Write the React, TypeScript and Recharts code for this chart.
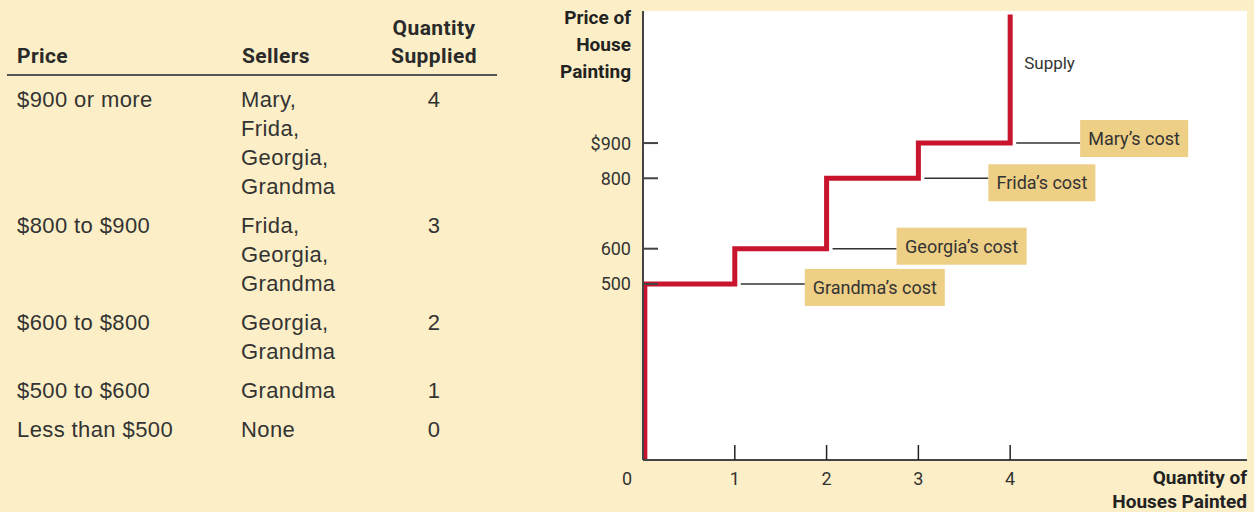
import React from "react";
import {
  CartesianGrid,
  ComposedChart,
  Line,
  Scatter,
  XAxis,
  YAxis,
} from "recharts";

// Table values
const PRICE_RANGES = ["$900 or more", "$800 to $900", "$600 to $800", "$500 to $600", "Less than $500"];
const ROW_SELLERS = [
  ["Mary,", "Frida,", "Georgia,", "Grandma"],
  ["Frida,", "Georgia,", "Grandma"],
  ["Georgia,", "Grandma"],
  ["Grandma"],
  ["None"],
];
const QTY_SUPPLIED = [4, 3, 2, 1, 0];

// Supply curve: each seller's cost, in order of who enters first
const SELLERS = ["Grandma", "Georgia", "Frida", "Mary"];
const COSTS = [500, 600, 800, 900];
const FIRST_Q = 0.02; // the first riser sits just right of the axis
const SUPPLY_TOP = 1265;

const PRICE_TICKS = [500, 600, 800, 900];
const QTY_TICKS = [0, 1, 2, 3, 4];

const CREAM = "#fcefc7";
const RED = "#c8142c";
const TAN = "#edcf85";
const INK = "#333";
const FONT = "Roboto, 'Liberation Sans', sans-serif";

// step points built from the costs
const supplyPoints = (() => {
  const pts = [{ q: FIRST_Q, p: 0 }];
  COSTS.forEach((c, i) => {
    pts.push({ q: i === 0 ? FIRST_Q : i, p: c });
    pts.push({ q: i + 1, p: c });
  });
  pts.push({ q: COSTS.length, p: SUPPLY_TOP });
  return pts;
})();

const costPoints = COSTS.map((c, i) => ({ q: i + 1, p: c, name: SELLERS[i] }));

// box look for each cost callout
const BOX = {
  Mary: { w: 108, dy: -23 },
  Frida: { w: 107, dy: -14 },
  Georgia: { w: 130, dy: -21 },
  Grandma: { w: 140, dy: -15 },
};

function CostCallout(props) {
  const { cx, cy, payload } = props;
  const b = BOX[payload.name];
  const x0 = cx + 6;
  const bx = x0 + 64;
  return (
    <g>
      <line x1={x0} x2={bx} y1={cy} y2={cy} stroke={INK} strokeWidth={1.5} />
      <rect x={bx} y={cy + b.dy} width={b.w} height={37} fill={TAN} />
      <text
        x={bx + b.w / 2}
        y={cy + b.dy + 18.5}
        textAnchor="middle"
        dominantBaseline="central"
        fontFamily={FONT}
        fontSize={18}
        fill={INK}
      >
        {payload.name}’s cost
      </text>
    </g>
  );
}

function PriceTick(props) {
  const { x, y, payload } = props;
  const v = payload.value;
  return (
    <g>
      <line x1={x} x2={x + 15} y1={y} y2={y} stroke="#444" strokeWidth={2} />
      <text
        x={x - 12}
        y={y}
        textAnchor="end"
        dominantBaseline="central"
        fontFamily={FONT}
        fontSize={18}
        fill={INK}
      >
        {v === 900 ? "$900" : v}
      </text>
    </g>
  );
}

function QtyTick(props) {
  const { x, y, payload } = props;
  const v = payload.value;
  return (
    <g>
      {v > 0 && <line x1={x} x2={x} y1={y} y2={y - 15} stroke="#222" strokeWidth={1.5} />}
      <text
        x={v === 0 ? x - 16 : x}
        y={y + 18}
        textAnchor="middle"
        dominantBaseline="central"
        fontFamily={FONT}
        fontSize={18}
        fill={INK}
      >
        {v}
      </text>
    </g>
  );
}

function SupplyTable() {
  const cell = { padding: "5px 0", verticalAlign: "top" } as const;
  const head = {
    fontFamily: FONT,
    fontWeight: 700,
    fontSize: 21,
    lineHeight: "28px",
    color: "#2a2a2a",
    verticalAlign: "bottom",
    paddingBottom: 4,
  } as const;
  return (
    <table
      style={{
        position: "absolute",
        left: 7,
        top: 13,
        width: 490,
        borderCollapse: "collapse",
        fontFamily: "'Liberation Sans', Arial, sans-serif",
        fontSize: 22,
        letterSpacing: 0.4,
        lineHeight: "29px",
        color: INK,
      }}
    >
      <colgroup>
        <col style={{ width: 234 }} />
        <col style={{ width: 130 }} />
        <col style={{ width: 126 }} />
      </colgroup>
      <thead>
        <tr style={{ borderBottom: "2px solid #555" }}>
          <th style={{ ...head, textAlign: "left", paddingLeft: 10 }}>Price</th>
          <th style={{ ...head, textAlign: "left" }}>Sellers</th>
          <th style={{ ...head, textAlign: "center" }}>
            Quantity
            <br />
            Supplied
          </th>
        </tr>
      </thead>
      <tbody>
        {PRICE_RANGES.map((r, i) => (
          <tr key={r}>
            <td style={{ ...cell, paddingLeft: 10, paddingTop: i === 0 ? 9 : 5 }}>{r}</td>
            <td style={{ ...cell, paddingTop: i === 0 ? 9 : 5 }}>
              {ROW_SELLERS[i].map((s) => (
                <div key={s}>{s}</div>
              ))}
            </td>
            <td style={{ ...cell, textAlign: "center", paddingTop: i === 0 ? 9 : 5 }}>
              {QTY_SUPPLIED[i]}
            </td>
          </tr>
        ))}
      </tbody>
    </table>
  );
}

export default function App() {
  const lastIdx = supplyPoints.length - 1;
  return (
    <div style={{ position: "relative", width: 1254, height: 512, background: CREAM, overflow: "hidden" }}>
      <style>{`body{margin:0}`}</style>
      <SupplyTable />

      <div style={{ position: "absolute", left: 0, top: 0 }}>
        <ComposedChart
          width={1254}
          height={512}
          margin={{ top: 11, right: 7, bottom: 0, left: 583 }}
        >
          <CartesianGrid fill="#fff" horizontal={false} vertical={false} />
          <XAxis
            type="number"
            dataKey="q"
            domain={[0, 6.58]}
            ticks={QTY_TICKS}
            height={52}
            tickSize={0}
            tickMargin={0}
            tick={<QtyTick />}
            axisLine={{ stroke: "#444", strokeWidth: 2 }}
            allowDataOverflow
          />
          <YAxis
            type="number"
            dataKey="p"
            domain={[0, 1275]}
            ticks={PRICE_TICKS}
            width={60}
            tickSize={0}
            tickMargin={0}
            tick={<PriceTick />}
            axisLine={{ stroke: "#444", strokeWidth: 2 }}
            allowDataOverflow
          />
          <Line
            data={supplyPoints}
            dataKey="p"
            type="linear"
            stroke={RED}
            strokeWidth={5}
            strokeLinejoin="miter"
            dot={false}
            activeDot={false}
            isAnimationActive={false}
            label={(lp) =>
              lp.index === lastIdx ? (
                <text
                  key="supply"
                  x={lp.x + 14}
                  y={lp.y + 48}
                  dominantBaseline="central"
                  fontFamily={FONT}
                  fontSize={17}
                  fill={INK}
                >
                  Supply
                </text>
              ) : (
                <g key={lp.index} />
              )
            }
          />
          <Scatter
            data={costPoints}
            dataKey="p"
            shape={CostCallout}
            isAnimationActive={false}
          />
        </ComposedChart>
      </div>

      <div
        style={{
          position: "absolute",
          right: 623,
          top: 4,
          textAlign: "right",
          fontFamily: FONT,
          fontWeight: 700,
          fontSize: 19,
          lineHeight: "27px",
          color: "#222",
        }}
      >
        Price of
        <br />
        House
        <br />
        Painting
      </div>
      <div
        style={{
          position: "absolute",
          right: 7,
          top: 466,
          textAlign: "right",
          fontFamily: FONT,
          fontWeight: 700,
          fontSize: 19,
          lineHeight: "24px",
          color: "#222",
        }}
      >
        Quantity of
        <br />
        Houses Painted
      </div>
    </div>
  );
}
